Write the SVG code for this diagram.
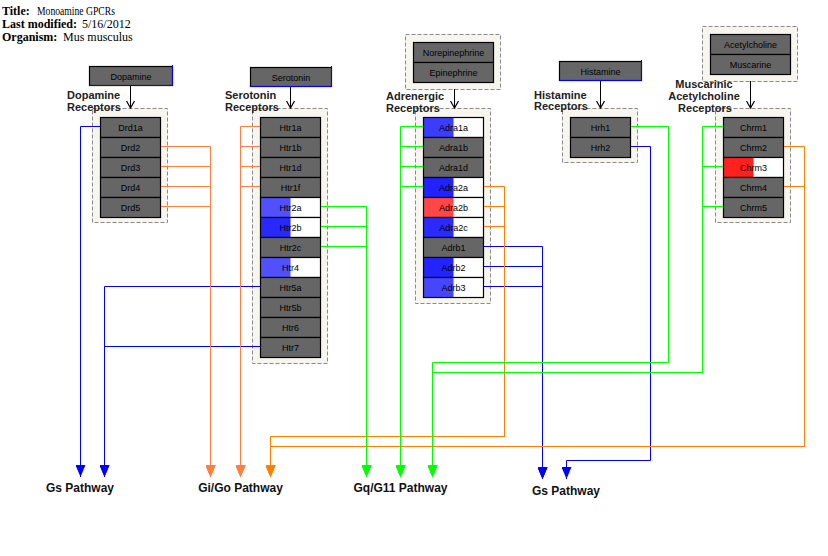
<svg xmlns="http://www.w3.org/2000/svg" width="828" height="556" viewBox="0 0 828 556">
<style>
.bg{fill:#fff}
.hdr{font-family:"Liberation Serif","Times New Roman",serif;font-size:12px;fill:#000}
.hdr .b{font-weight:bold}
.n rect.f{fill:#666;stroke:#000;stroke-width:1.2}
.n rect.o{fill:none;stroke:#000;stroke-width:1.2}
.n rect.w{fill:#fff;stroke:none}
.n text{font-family:"Liberation Sans",Arial,sans-serif;font-size:9px;fill:#000;text-anchor:middle}
.grp{fill:#f6f5ee;stroke:#8a8a8a;stroke-width:1;stroke-dasharray:4 2}
.lbl{font-family:"Liberation Sans",Arial,sans-serif;font-size:11px;font-weight:bold;fill:#222}
.pw{font-family:"Liberation Sans",Arial,sans-serif;font-size:12px;font-weight:bold;fill:#111;text-anchor:middle}
.blu{fill:none;stroke:#0000ff;stroke-width:1}
.mim{fill:none;stroke:#000;stroke-width:1;marker-end:url(#open)}
.c{fill:none;stroke-width:1}
.cb{stroke:#0000ff;marker-end:url(#aB)}
.co{stroke:#ff7f3f;marker-end:url(#aO1)}
.co2{stroke:#ff8000;marker-end:url(#aO2)}
.cg{stroke:#00ff00;marker-end:url(#aG)}
</style>
<defs>
<marker id="aB" markerUnits="userSpaceOnUse" markerWidth="12" markerHeight="10" refX="12" refY="5" orient="auto"><path d="M0,0 L12,5 L0,10 Z" fill="#0000ff"/></marker>
<marker id="aO1" markerUnits="userSpaceOnUse" markerWidth="12" markerHeight="10" refX="12" refY="5" orient="auto"><path d="M0,0 L12,5 L0,10 Z" fill="#ff7f3f"/></marker>
<marker id="aO2" markerUnits="userSpaceOnUse" markerWidth="12" markerHeight="10" refX="12" refY="5" orient="auto"><path d="M0,0 L12,5 L0,10 Z" fill="#ff8000"/></marker>
<marker id="aG" markerUnits="userSpaceOnUse" markerWidth="12" markerHeight="10" refX="12" refY="5" orient="auto"><path d="M0,0 L12,5 L0,10 Z" fill="#00ff00"/></marker>
<marker id="open" markerUnits="userSpaceOnUse" markerWidth="8" markerHeight="10" refX="7" refY="5" orient="auto"><path d="M0,1 L7,5 L0,9" fill="none" stroke="#000" stroke-width="1.2"/></marker>
</defs>
<rect class="bg" x="0" y="0" width="828" height="556"/>

<g id="header" class="hdr">
<text x="2" y="15" class="b">Title:</text>
<text x="37" y="15" textLength="78" lengthAdjust="spacingAndGlyphs">Monoamine GPCRs</text>
<text x="2" y="27.5" class="b">Last modified:</text>
<text x="82" y="27.5">5/16/2012</text>
<text x="2" y="40.5" class="b">Organism:</text>
<text x="63" y="40.5">Mus musculus</text>
</g>

<!-- group boxes -->
<g id="dopamine-receptors-group"><rect class="grp" x="92.5" y="108.5" width="75" height="114"/></g>
<g id="serotonin-receptors-group"><rect class="grp" x="252.5" y="108.5" width="75" height="255"/></g>
<g id="adrenergic-receptors-group"><rect class="grp" x="415.5" y="108.5" width="75" height="195"/></g>
<g id="histamine-receptors-group"><rect class="grp" x="562.5" y="108.5" width="75" height="54"/></g>
<g id="muscarinic-receptors-group"><rect class="grp" x="715.5" y="108.5" width="75" height="114"/></g>
<g id="catecholamine-group"><rect class="grp" x="405.5" y="34.5" width="95" height="55"/></g>
<g id="acetylcholine-group"><rect class="grp" x="702.5" y="26.5" width="95" height="55"/></g>

<!-- group labels -->
<g id="labels">
<text class="lbl" x="67" y="98.5">Dopamine</text><text class="lbl" x="67" y="110.5">Receptors</text>
<text class="lbl" x="225" y="98.5">Serotonin</text><text class="lbl" x="225" y="110.5">Receptors</text>
<text class="lbl" x="386" y="100">Adrenergic</text><text class="lbl" x="386" y="111.5">Receptors</text>
<text class="lbl" x="534" y="98.5">Histamine</text><text class="lbl" x="534" y="110">Receptors</text>
<text class="lbl" x="704" y="88" text-anchor="middle">Muscarinic</text>
<text class="lbl" x="704" y="100" text-anchor="middle">Acetylcholine</text>
<text class="lbl" x="705" y="112" text-anchor="middle">Receptors</text>
</g>

<!-- connectors -->
<g id="connectors">
<path class="mim" d="M130.5,85 V108"/>
<path class="mim" d="M290.5,87 V108"/>
<path class="mim" d="M454.5,89 V108"/>
<path class="mim" d="M600.5,80 V108"/>
<path class="mim" d="M750.5,81 V108"/>

<path class="c cb" d="M100,126.5 H80.5 V477"/>
<path class="c cb" d="M260,286.5 H104.5 V477"/>
<path class="c cb" d="M260,346.5 H104.5 V477"/>
<path class="c cb" d="M483,246.5 H542.5 V479"/>
<path class="c cb" d="M483,266.5 H542.5 V479"/>
<path class="c cb" d="M483,286.5 H542.5 V479"/>
<path class="c cb" d="M630,146.5 H650.5 V460.5 H566.5 V479"/>

<path class="c co" d="M160,146.5 H210.5 V477"/>
<path class="c co" d="M160,166.5 H210.5 V477"/>
<path class="c co" d="M160,186.5 H210.5 V477"/>
<path class="c co" d="M160,206.5 H210.5 V477"/>
<path class="c co" d="M260,126.5 H240.5 V477"/>
<path class="c co" d="M260,146.5 H240.5 V477"/>
<path class="c co" d="M260,166.5 H240.5 V477"/>
<path class="c co" d="M260,186.5 H240.5 V477"/>

<path class="c co2" d="M483,186.5 H504.5 V436.5 H270.5 V477"/>
<path class="c co2" d="M483,206.5 H504.5 V436.5 H270.5 V477"/>
<path class="c co2" d="M483,226.5 H504.5 V436.5 H270.5 V477"/>
<path class="c co2" d="M783.5,146.5 H804.5 V446.5 H270.5 V477"/>
<path class="c co2" d="M783.5,186.5 H804.5 V446.5 H270.5 V477"/>

<path class="c cg" d="M320,206.5 H366.5 V477"/>
<path class="c cg" d="M320,226.5 H366.5 V477"/>
<path class="c cg" d="M320,246.5 H366.5 V477"/>
<path class="c cg" d="M423,126.5 H400.5 V477"/>
<path class="c cg" d="M423,146.5 H400.5 V477"/>
<path class="c cg" d="M423,166.5 H400.5 V477"/>
<path class="c cg" d="M423,186.5 H400.5 V477"/>
<path class="c cg" d="M630,126.5 H668.5 V362.5 H432.5 V477"/>
<path class="c cg" d="M723.5,126.5 H702.5 V372.5 H432.5 V477"/>
<path class="c cg" d="M723.5,166.5 H702.5 V372.5 H432.5 V477"/>
<path class="c cg" d="M723.5,206.5 H702.5 V372.5 H432.5 V477"/>
</g>

<!-- ligand nodes -->
<g id="dopamine" class="n"><rect class="f" x="89.5" y="66.5" width="83" height="19"/><path class="blu" d="M89.5,85.5 H172.5 V65"/><text x="131" y="79.5">Dopamine</text></g>
<g id="serotonin" class="n"><rect class="f" x="250.5" y="67.5" width="81" height="19"/><path class="blu" d="M250.5,86.5 H331.5 V66"/><text x="291" y="80.5">Serotonin</text></g>
<g id="histamine" class="n"><rect class="f" x="559.5" y="61.5" width="82" height="19"/><path class="blu" d="M559.5,80.5 H641.5 V60"/><text x="600.5" y="74.5">Histamine</text></g>
<g id="norepinephrine" class="n"><rect class="f" x="413.5" y="42.5" width="80" height="20"/><text x="453.5" y="56">Norepinephrine</text></g>
<g id="epinephrine" class="n"><rect class="f" x="413.5" y="62.5" width="80" height="20"/><text x="453.5" y="76">Epinephrine</text></g>
<g id="acetylcholine" class="n"><rect class="f" x="710.5" y="34.5" width="80" height="20"/><text x="750.5" y="48">Acetylcholine</text></g>
<g id="muscarine" class="n"><rect class="f" x="710.5" y="54.5" width="80" height="20"/><text x="750.5" y="68">Muscarine</text></g>

<!-- dopamine receptors -->
<g id="drd1a" class="n"><rect class="f" x="100.5" y="117.5" width="60" height="20"/><text x="130.5" y="131">Drd1a</text></g>
<g id="drd2" class="n"><rect class="f" x="100.5" y="137.5" width="60" height="20"/><text x="130.5" y="151">Drd2</text></g>
<g id="drd3" class="n"><rect class="f" x="100.5" y="157.5" width="60" height="20"/><text x="130.5" y="171">Drd3</text></g>
<g id="drd4" class="n"><rect class="f" x="100.5" y="177.5" width="60" height="20"/><text x="130.5" y="191">Drd4</text></g>
<g id="drd5" class="n"><rect class="f" x="100.5" y="197.5" width="60" height="20"/><text x="130.5" y="211">Drd5</text></g>

<!-- serotonin receptors -->
<g id="htr1a" class="n"><rect class="f" x="260.5" y="117.5" width="60" height="20"/><text x="290.5" y="131">Htr1a</text></g>
<g id="htr1b" class="n"><rect class="f" x="260.5" y="137.5" width="60" height="20"/><text x="290.5" y="151">Htr1b</text></g>
<g id="htr1d" class="n"><rect class="f" x="260.5" y="157.5" width="60" height="20"/><text x="290.5" y="171">Htr1d</text></g>
<g id="htr1f" class="n"><rect class="f" x="260.5" y="177.5" width="60" height="20"/><text x="290.5" y="191">Htr1f</text></g>
<g id="htr2a" class="n"><rect class="w" x="260.5" y="197.5" width="60" height="20"/><rect x="260.5" y="197.5" width="30" height="20" fill="#5050ff"/><rect class="o" x="260.5" y="197.5" width="60" height="20"/><text x="290.5" y="211">Htr2a</text></g>
<g id="htr2b" class="n"><rect class="w" x="260.5" y="217.5" width="60" height="20"/><rect x="260.5" y="217.5" width="30" height="20" fill="#2828ff"/><rect class="o" x="260.5" y="217.5" width="60" height="20"/><text x="290.5" y="231">Htr2b</text></g>
<g id="htr2c" class="n"><rect class="f" x="260.5" y="237.5" width="60" height="20"/><text x="290.5" y="251">Htr2c</text></g>
<g id="htr4" class="n"><rect class="w" x="260.5" y="257.5" width="60" height="20"/><rect x="260.5" y="257.5" width="30" height="20" fill="#5050ff"/><rect class="o" x="260.5" y="257.5" width="60" height="20"/><text x="290.5" y="271">Htr4</text></g>
<g id="htr5a" class="n"><rect class="f" x="260.5" y="277.5" width="60" height="20"/><text x="290.5" y="291">Htr5a</text></g>
<g id="htr5b" class="n"><rect class="f" x="260.5" y="297.5" width="60" height="20"/><text x="290.5" y="311">Htr5b</text></g>
<g id="htr6" class="n"><rect class="f" x="260.5" y="317.5" width="60" height="20"/><text x="290.5" y="331">Htr6</text></g>
<g id="htr7" class="n"><rect class="f" x="260.5" y="337.5" width="60" height="20"/><text x="290.5" y="351">Htr7</text></g>

<!-- adrenergic receptors -->
<g id="adra1a" class="n"><rect class="w" x="423.5" y="117.5" width="60" height="20"/><rect x="423.5" y="117.5" width="30" height="20" fill="#3c3cff"/><rect class="o" x="423.5" y="117.5" width="60" height="20"/><text x="453.5" y="131">Adra1a</text></g>
<g id="adra1b" class="n"><rect class="f" x="423.5" y="137.5" width="60" height="20"/><text x="453.5" y="151">Adra1b</text></g>
<g id="adra1d" class="n"><rect class="f" x="423.5" y="157.5" width="60" height="20"/><text x="453.5" y="171">Adra1d</text></g>
<g id="adra2a" class="n"><rect class="w" x="423.5" y="177.5" width="60" height="20"/><rect x="423.5" y="177.5" width="30" height="20" fill="#2222ff"/><rect class="o" x="423.5" y="177.5" width="60" height="20"/><text x="453.5" y="191">Adra2a</text></g>
<g id="adra2b" class="n"><rect class="w" x="423.5" y="197.5" width="60" height="20"/><rect x="423.5" y="197.5" width="30" height="20" fill="#ff4646"/><rect class="o" x="423.5" y="197.5" width="60" height="20"/><text x="453.5" y="211">Adra2b</text></g>
<g id="adra2c" class="n"><rect class="w" x="423.5" y="217.5" width="60" height="20"/><rect x="423.5" y="217.5" width="30" height="20" fill="#2a2aff"/><rect class="o" x="423.5" y="217.5" width="60" height="20"/><text x="453.5" y="231">Adra2c</text></g>
<g id="adrb1" class="n"><rect class="f" x="423.5" y="237.5" width="60" height="20"/><text x="453.5" y="251">Adrb1</text></g>
<g id="adrb2" class="n"><rect class="w" x="423.5" y="257.5" width="60" height="20"/><rect x="423.5" y="257.5" width="30" height="20" fill="#2424ff"/><rect class="o" x="423.5" y="257.5" width="60" height="20"/><text x="453.5" y="271">Adrb2</text></g>
<g id="adrb3" class="n"><rect class="w" x="423.5" y="277.5" width="60" height="20"/><rect x="423.5" y="277.5" width="30" height="20" fill="#4646ff"/><rect class="o" x="423.5" y="277.5" width="60" height="20"/><text x="453.5" y="291">Adrb3</text></g>

<!-- histamine receptors -->
<g id="hrh1" class="n"><rect class="f" x="570.5" y="117.5" width="60" height="20"/><text x="600.5" y="131">Hrh1</text></g>
<g id="hrh2" class="n"><rect class="f" x="570.5" y="137.5" width="60" height="20"/><text x="600.5" y="151">Hrh2</text></g>

<!-- muscarinic receptors -->
<g id="chrm1" class="n"><rect class="f" x="723.5" y="117.5" width="60" height="20"/><text x="753.5" y="131">Chrm1</text></g>
<g id="chrm2" class="n"><rect class="f" x="723.5" y="137.5" width="60" height="20"/><text x="753.5" y="151">Chrm2</text></g>
<g id="chrm3" class="n"><rect class="w" x="723.5" y="157.5" width="60" height="20"/><rect x="723.5" y="157.5" width="30" height="20" fill="#ff2020"/><rect class="o" x="723.5" y="157.5" width="60" height="20"/><text x="753.5" y="171">Chrm3</text></g>
<g id="chrm4" class="n"><rect class="f" x="723.5" y="177.5" width="60" height="20"/><text x="753.5" y="191">Chrm4</text></g>
<g id="chrm5" class="n"><rect class="f" x="723.5" y="197.5" width="60" height="20"/><text x="753.5" y="211">Chrm5</text></g>

<!-- pathway labels -->
<g id="gs-pathway-1"><text class="pw" x="80" y="492">Gs Pathway</text></g>
<g id="gigo-pathway"><text class="pw" x="240.5" y="492">Gi/Go Pathway</text></g>
<g id="gqg11-pathway"><text class="pw" x="400.5" y="492">Gq/G11 Pathway</text></g>
<g id="gs-pathway-2"><text class="pw" x="566" y="495">Gs Pathway</text></g>
</svg>
